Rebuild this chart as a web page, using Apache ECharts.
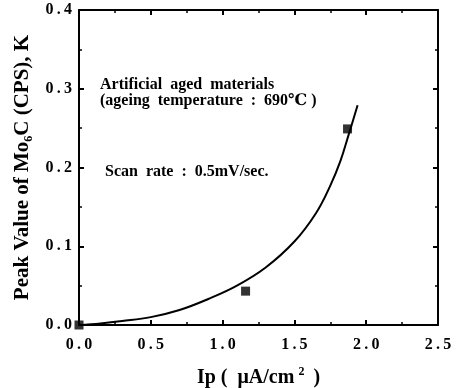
<!DOCTYPE html>
<html>
<head>
<meta charset="utf-8">
<script src="https://cdn.jsdelivr.net/npm/echarts@6/dist/echarts.min.js"></script>
<style>
  html, body { margin: 0; padding: 0; background: #fff; }
  #chart { width: 458px; height: 388px; }
</style>
</head>
<body>
<div id="chart"></div>
<script>
// measured points
var pointX = [0.0, 1.16, 1.87];
var pointY = [0.0, 0.043, 0.249];
// fitted curve
var curveX = [0.0, 0.15, 0.3, 0.5, 0.7, 0.9, 1.1, 1.3, 1.5, 1.65, 1.75, 1.82, 1.88, 1.94];
var curveY = [0.0, 0.002, 0.005, 0.010, 0.019, 0.033, 0.050, 0.073, 0.106, 0.142, 0.177, 0.208, 0.243, 0.279];
var notes = [
  "Artificial  aged  materials",
  "(ageing  temperature  :  690\u2103 )",
  "Scan  rate  :  0.5mV/sec."
];

var font = "'Liberation Serif', 'DejaVu Serif', serif";

function pairs(xs, ys) {
  return xs.map(function (x, i) { return [x, ys[i]]; });
}

function tickText(v) {
  return v.toFixed(1).replace(".", "\u2009.\u2009");
}

var myChart = echarts.init(document.getElementById("chart"));

var tickCommon = {
  axisLine: { show: true, onZero: false, lineStyle: { color: "#000", width: 2 } },
  axisTick: { show: true, inside: true, length: 5, lineStyle: { color: "#000", width: 2 } },
  minorTick: { show: true, splitNumber: 2, length: 3, lineStyle: { color: "#000", width: 1.5 } },
  splitLine: { show: false }
};

var options = {
  animation: false,
  backgroundColor: "#fff",
  grid: { left: 79, right: 20, top: 10, bottom: 63, outerBoundsMode: "none" },
  xAxis: [
    Object.assign({
      type: "value",
      min: 0,
      max: 2.5,
      interval: 0.5,
      name: "Ip (  \u03bcA/cm{sup|2} )",
      nameLocation: "middle",
      nameGap: 41,
      nameTextStyle: {
        fontFamily: font, fontWeight: "bold", fontSize: 20, color: "#000",
        rich: {
          sup: { fontFamily: font, fontWeight: "bold", fontSize: 12, color: "#000", padding: [0, 4, 12, 4] }
        }
      },
      axisLabel: {
        fontFamily: font, fontWeight: "bold", fontSize: 16, color: "#000", margin: 12,
        formatter: tickText
      }
    }, tickCommon),
    Object.assign({
      type: "value",
      position: "top",
      min: 0,
      max: 2.5,
      interval: 0.5,
      axisLabel: { show: false }
    }, tickCommon)
  ],
  yAxis: [
    Object.assign({
      type: "value",
      min: 0,
      max: 0.4,
      interval: 0.1,
      name: "Peak Value of Mo{sub|6}C (CPS), K",
      nameLocation: "middle",
      nameGap: 43,
      nameTextStyle: {
        fontFamily: font, fontWeight: "bold", fontSize: 21, color: "#000",
        rich: {
          sub: { fontFamily: font, fontWeight: "bold", fontSize: 12, color: "#000", padding: [12, 0, 0, 0] }
        }
      },
      axisLabel: {
        fontFamily: font, fontWeight: "bold", fontSize: 16, color: "#000", margin: 7,
        formatter: tickText
      }
    }, tickCommon),
    Object.assign({
      type: "value",
      position: "right",
      min: 0,
      max: 0.4,
      interval: 0.1,
      axisLabel: { show: false }
    }, tickCommon)
  ],
  graphic: [
    {
      type: "text", left: 100, top: 77,
      style: { text: notes[0], font: "bold 16px " + font, fill: "#000" }
    },
    {
      type: "text", left: 100, top: 93,
      style: { text: notes[1], font: "bold 16px " + font, fill: "#000" }
    },
    {
      type: "text", left: 105, top: 164,
      style: { text: notes[2], font: "bold 16px " + font, fill: "#000" }
    }
  ],
  series: [
    {
      type: "line",
      data: pairs(curveX, curveY),
      smooth: 0.4,
      showSymbol: false,
      lineStyle: { color: "#000", width: 2 },
      z: 2
    },
    {
      type: "scatter",
      data: pairs(pointX, pointY),
      symbol: "rect",
      symbolSize: 9,
      clip: false,
      itemStyle: { color: "#000" },
      z: 3
    }
  ]
};
myChart.setOption(options);
</script>
</body>
</html>
